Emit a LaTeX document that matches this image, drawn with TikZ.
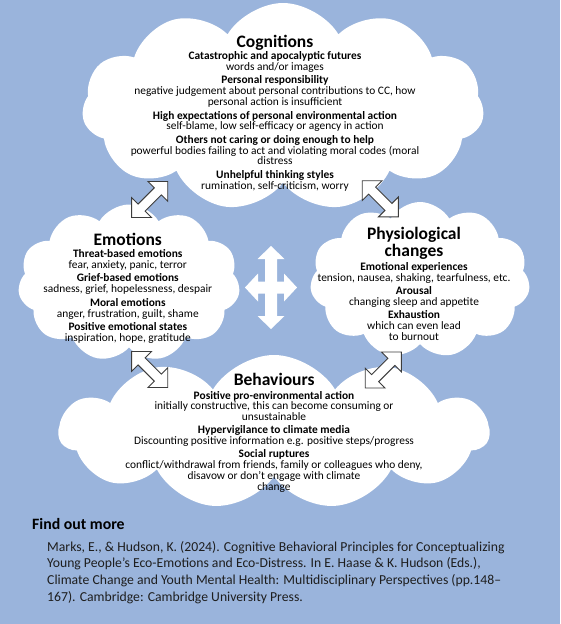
\documentclass[tikz,border=0pt]{standalone}
\usepackage{fontspec}
\setmainfont{Carlito}
\usetikzlibrary{shapes.symbols}
\definecolor{bg}{RGB}{154,180,220}
\definecolor{arrline}{RGB}{60,60,60}
\definecolor{reftext}{RGB}{30,30,30}
\tikzset{
  cloudbox/.style={cloud, cloud puffs=11, cloud puff arc=118, cloud ignores aspect, fill=white, draw=none, inner sep=0pt},
  body/.style={align=center, anchor=north, inner sep=0pt, text=black, font=\fontsize{11.4}{10.7}\selectfont},
  ttl/.style={anchor=base, inner sep=0pt, text=black, font=\fontsize{17.5}{15.7}\selectfont\bfseries},
  diagarrow/.style={draw=arrline, fill=white, line width=0.9pt, line join=miter},
  crossarrow/.style={fill=white, draw=none},
  pics/dbl/.style args={#1/#2/#3/#4}{code={
    \path[pic actions] (-#1/2,0) -- (-#1/2+#2,#3) -- (-#1/2+#2,#4) -- (#1/2-#2,#4) -- (#1/2-#2,#3)
      -- (#1/2,0) -- (#1/2-#2,-#3) -- (#1/2-#2,-#4) -- (-#1/2+#2,-#4) -- (-#1/2+#2,-#3) -- cycle;
  }},
}
\newcommand{\hd}[1]{\textbf{#1}}
\begin{document}
\begin{tikzpicture}[x=1pt,y=-1pt]
\fill[bg] (0,0) rectangle (560,624);
\useasboundingbox (0,0) rectangle (560,624);

% clouds
\node[cloudbox, minimum width=402, minimum height=208] (cogc) at (283,107) {};
\node[cloudbox, minimum width=222, minimum height=157] (emoc) at (129,283) {};
\node[cloudbox, minimum width=220, minimum height=156] (phyc) at (420,280) {};
\node[cloudbox, minimum width=430, minimum height=154] (behc) at (274,432) {};

% diagonal double arrows
\pic[diagarrow, rotate=45] at (149.7,199.5) {dbl=51/14/14/5};
\pic[diagarrow, rotate=-45] at (380.3,198.8) {dbl=51/14/14/5};
\pic[diagarrow, rotate=-45] at (149.7,369.5) {dbl=51/14/14/5};
\pic[diagarrow, rotate=45] at (383.3,370) {dbl=51/14/14/5};

% central four-way arrow
\pic[crossarrow, rotate=90] at (271,287.5) {dbl=83/13/13.5/6};
\pic[crossarrow] at (271,287.5) {dbl=52/13/14/6};

% titles
\node[ttl] (cogt) at (275,47.5) {Cognitions};
\node[ttl] (emot) at (127.8,245) {Emotions};
\node[ttl] (phyt1) at (414,239.5) {Physiological};
\node[ttl] (phyt2) at (414,256.3) {changes};
\node[ttl] (beht) at (274.2,385.7) {Behaviours};

% bodies
\node[body] (cogb) at (275,50.3) {\rule{0pt}{9pt}\hd{Catastrophic and apocalyptic futures}\\
words and/or images\\[3pt]
\hd{Personal responsibility}\\
negative judgement about personal contributions to CC, how\\
personal action is insufficient\\[3pt]
\hd{High expectations of personal environmental action}\\
self-blame, low self-efficacy or agency in action\\[3pt]
\hd{Others not caring or doing enough to help}\\
powerful bodies failing to act and violating moral codes (moral\\
distress\\[3pt]
\hd{Unhelpful thinking styles}\\
rumination, self-criticism, worry};

\node[body] (emob) at (127.8,248.3) {\rule{0pt}{9pt}\hd{Threat-based emotions}\\
fear, anxiety, panic, terror\\[3pt]
\hd{Grief-based emotions}\\
sadness, grief, hopelessness, despair\\[3pt]
\hd{Moral emotions}\\
anger, frustration, guilt, shame\\[3pt]
\hd{Positive emotional states}\\
inspiration, hope, gratitude};

\node[body] (phyb) at (414,261.7) {\rule{0pt}{9pt}\hd{Emotional experiences}\\
tension, nausea, shaking, tearfulness, etc.\\[2.6pt]
\hd{Arousal}\\
changing sleep and appetite\\[2.6pt]
\hd{Exhaustion}\\
which can even lead\\
to burnout};

\node[body] (behb) at (274,390) {\rule{0pt}{9pt}\hd{Positive pro-environmental action}\\
initially constructive, this can become consuming or\\
unsustainable\\[2.6pt]
\hd{Hypervigilance to climate media}\\
Discounting positive information e.g. positive steps/progress\\[2.6pt]
\hd{Social ruptures}\\
conflict/withdrawal from friends, family or colleagues who deny,\\
disavow or don't engage with climate\\
change};

% find out more
\node[anchor=base west, inner sep=0pt, text=black, font=\fontsize{15.8}{17}\selectfont\bfseries] (fom) at (32,529.3) {Find out more};
\node[anchor=north west, inner sep=0pt, text=reftext, align=left, font=\fontsize{13.7}{16.7}\selectfont] (refs) at (47,541) {\rule{0pt}{10pt}Marks, E., \& Hudson, K. (2024). Cognitive Behavioral Principles for Conceptualizing\\
Young People’s Eco-Emotions and Eco-Distress. In E. Haase \& K. Hudson (Eds.),\\
Climate Change and Youth Mental Health: Multidisciplinary Perspectives (pp.148–\\
167). Cambridge: Cambridge University Press.};
\end{tikzpicture}
\end{document}
